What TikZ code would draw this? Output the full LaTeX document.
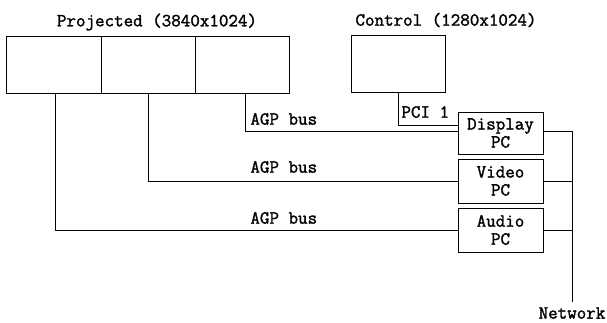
\documentclass[tikz,border=0pt]{standalone}
\usepackage{fontspec}
\setmonofont{Latin Modern Mono}[AutoFakeBold=1.6]
\begin{document}
\begin{tikzpicture}[x=1pt,y=-1pt,
  font=\ttfamily\bfseries\fontsize{18.5}{18}\selectfont,
  line width=0.9pt,
  box/.style={draw, inner sep=0pt, align=center},
  lbl/.style={inner sep=0pt, anchor=west}]
\useasboundingbox (0,0) rectangle (607,322);
% projected screens
\node[box, minimum width=95pt, minimum height=57pt] (p1) at (53.5,64.5) {};
\node[box, minimum width=94pt, minimum height=57pt] (p2) at (148,64.5) {};
\node[box, minimum width=94pt, minimum height=57pt] (p3) at (242,64.5) {};
\node (ptitle) at (157,22) {Projected (3840x1024)};
% control screen
\node[box, minimum width=94pt, minimum height=57pt] (ctrl) at (398,63.5) {};
\node (ctitle) at (446,20) {Control (1280x1024)};
% PCs
\node[box, minimum width=85pt, minimum height=42pt] (display) at (500.5,133) {Display\\PC};
\node[box, minimum width=85pt, minimum height=44pt] (video) at (500.5,181) {Video\\PC};
\node[box, minimum width=85pt, minimum height=44pt] (audio) at (500.5,230) {Audio\\PC};
% buses
\draw ([xshift=3pt]p3.south) |- ([yshift=2pt]display.west);
\draw (p2.south) |- (video.west);
\draw ([xshift=1.5pt]p1.south) |- (audio.west);
\draw (ctrl.south) |- ([yshift=8pt]display.west);
\node[lbl] (l1) at (250,119) {AGP bus};
\node[lbl] (l2) at (250,167) {AGP bus};
\node[lbl] (l3) at (250,218) {AGP bus};
\node[lbl] (pci) at (401,112) {PCI 1};
% network
\coordinate (net) at (572,302);
\draw ([yshift=2pt]display.east) -| (net);
\draw (video.east) -- (video.east -| net);
\draw (audio.east) -- (audio.east -| net);
\node[inner sep=1pt] (nlabel) at (572,313) {Network};
\end{tikzpicture}
\end{document}
